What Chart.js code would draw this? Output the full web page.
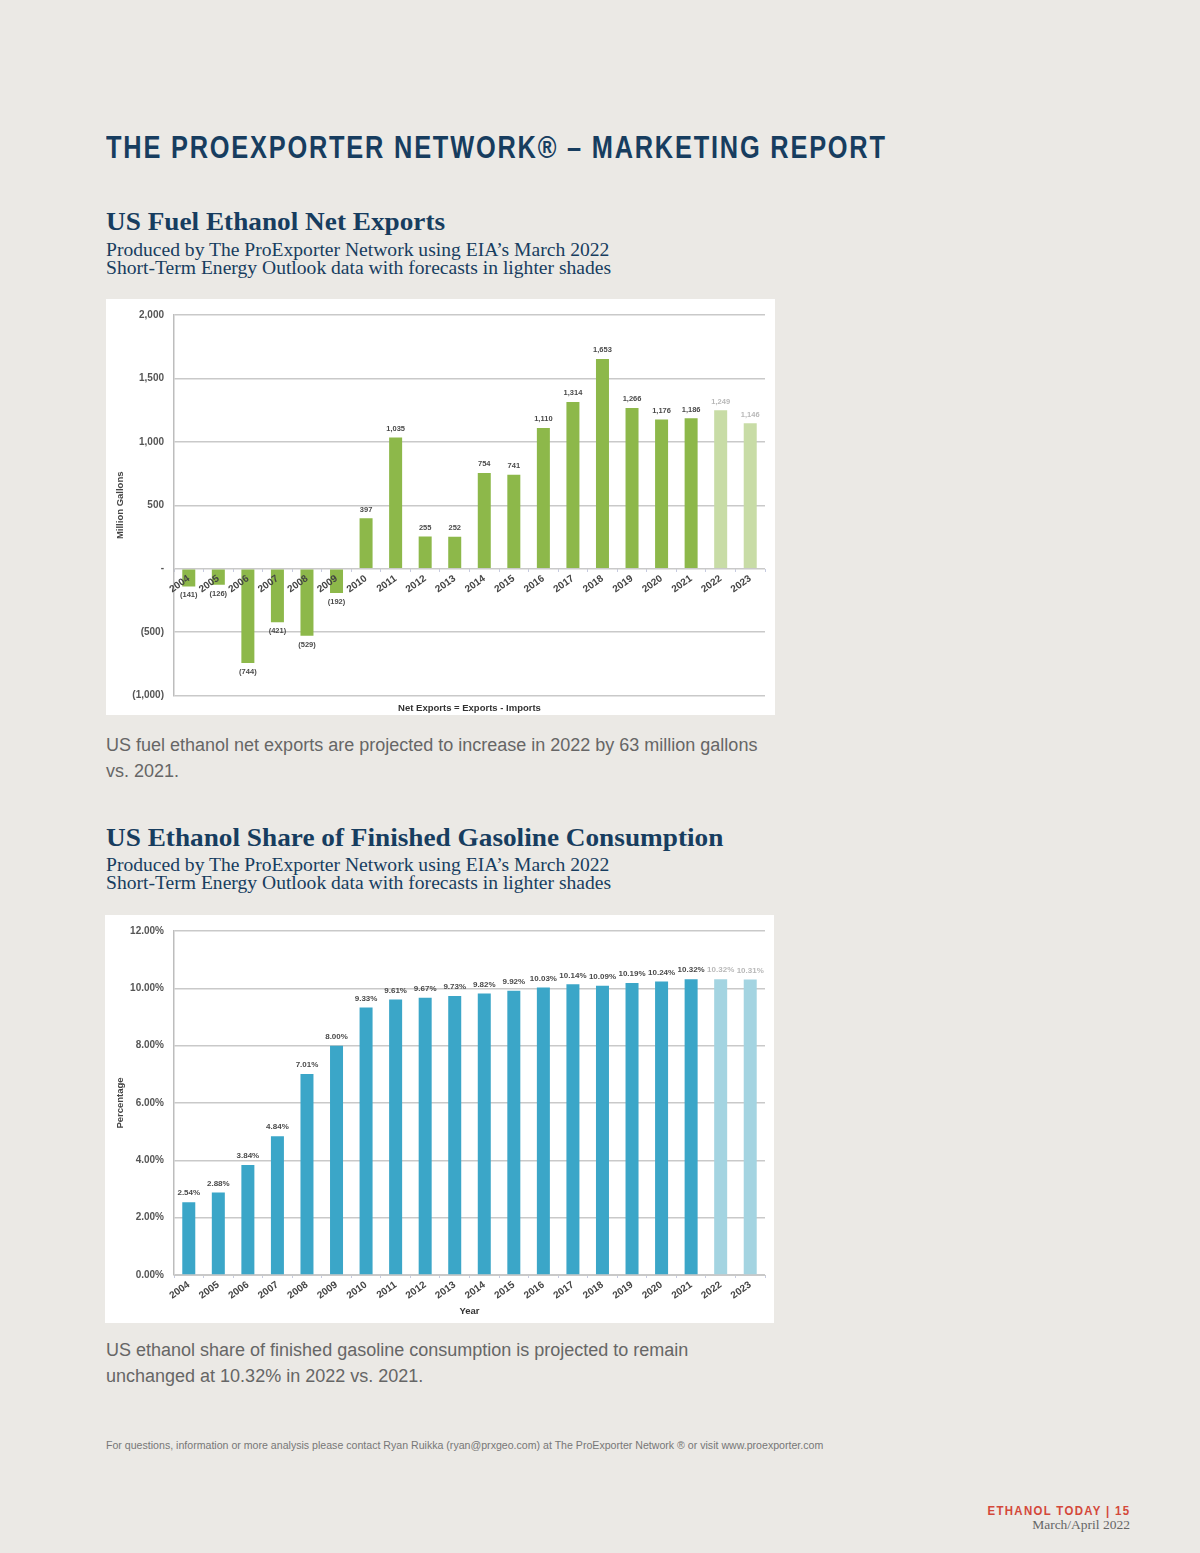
<!DOCTYPE html>
<html>
<head>
<meta charset="utf-8">
<script src="https://cdn.jsdelivr.net/npm/chart.js@4.4.0/dist/chart.umd.min.js"></script>
<style>
  body { margin: 0; background: #ebe9e5; }
  #page { position: relative; width: 1200px; height: 1553px; overflow: hidden; }
  .abs { position: absolute; white-space: nowrap; }
  .head { left: 106px; top: 130px; font-family: "Liberation Sans", sans-serif; font-weight: bold; font-size: 31px; letter-spacing: 2.2px; color: #173d5f; transform: scaleX(0.818); transform-origin: left top; }
  .h2 { left: 106px; font-family: "Liberation Serif", serif; font-weight: bold; font-size: 25px; color: #173d5f; transform: scaleX(1.09); transform-origin: left top; }
  .sub { left: 106px; font-family: "Liberation Serif", serif; font-size: 18px; line-height: 18px; color: #173d5f; transform: scaleX(1.088); transform-origin: left top; }
  .cap { left: 106px; font-family: "Liberation Sans", sans-serif; font-size: 18px; line-height: 26px; color: #666; }
  .box { position: absolute; background: #fff; }
  .foot { left: 106px; top: 1439px; font-family: "Liberation Sans", sans-serif; font-size: 10.6px; color: #777; }
  .brand { right: 70px; top: 1503px; font-family: "Liberation Sans", sans-serif; font-weight: bold; font-size: 13px; letter-spacing: 1.5px; color: #d4483a; transform: scaleX(0.88); transform-origin: right top; }
  .issue { right: 70px; top: 1517px; font-family: "Liberation Serif", serif; font-size: 13.5px; color: #666; }
</style>
</head>
<body>
<div id="page">
  <div class="abs head">THE PROEXPORTER NETWORK® – MARKETING REPORT</div>

  <div class="abs h2" style="top:208px;">US Fuel Ethanol Net Exports</div>
  <div class="abs sub" style="top:241px;">Produced by The ProExporter Network using EIA’s March 2022<br>Short-Term Energy Outlook data with forecasts in lighter shades</div>
  <div class="box" style="left:106px; top:299px; width:669px; height:416px;">
    <canvas id="exportsChart" width="669" height="416"></canvas>
  </div>
  <div class="abs cap" style="top:732px;">US fuel ethanol net exports are projected to increase in 2022 by 63 million gallons<br>vs. 2021.</div>

  <div class="abs h2" style="top:824px;">US Ethanol Share of Finished Gasoline Consumption</div>
  <div class="abs sub" style="top:856px;">Produced by The ProExporter Network using EIA’s March 2022<br>Short-Term Energy Outlook data with forecasts in lighter shades</div>
  <div class="box" style="left:105px; top:915px; width:669px; height:408px;">
    <canvas id="shareChart" width="669" height="408"></canvas>
  </div>
  <div class="abs cap" style="top:1337px;">US ethanol share of finished gasoline consumption is projected to remain<br>unchanged at 10.32% in 2022 vs. 2021.</div>

  <div class="abs foot">For questions, information or more analysis please contact Ryan Ruikka (ryan@prxgeo.com) at The ProExporter Network ® or visit www.proexporter.com</div>
  <div class="abs brand">ETHANOL TODAY | 15</div>
  <div class="abs issue">March/April 2022</div>
</div>

<script>
const years = ['2004','2005','2006','2007','2008','2009','2010','2011','2012','2013',
               '2014','2015','2016','2017','2018','2019','2020','2021','2022','2023'];
const forecastYears = ['2022','2023'];

// million gallons, exports - imports
const netExports = [-141, -126, -744, -421, -529, -192, 397, 1035, 255, 252,
                    754, 741, 1110, 1314, 1653, 1266, 1176, 1186, 1249, 1146];

// ethanol share of finished gasoline, percent
const ethanolShare = [2.54, 2.88, 3.84, 4.84, 7.01, 8.00, 9.33, 9.61, 9.67, 9.73,
                      9.82, 9.92, 10.03, 10.14, 10.09, 10.19, 10.24, 10.32, 10.32, 10.31];

const exportTicks = [-1000, -500, 0, 500, 1000, 1500, 2000];
const shareTicks = [0, 2, 4, 6, 8, 10, 12];

const tickFont = { family: 'Liberation Sans', size: 10, weight: 'bold' };
const axisTitleFont = { family: 'Liberation Sans', size: 9.5, weight: 'bold' };
const gridGrey = '#c9c9c9';

function fmtGallons(v) {
    if (v === 0) return '-';
    const s = Math.abs(v).toLocaleString('en-US');
    return v < 0 ? '(' + s + ')' : s;
}
function fmtPct(v) {
    return v.toFixed(2) + '%';
}

function colorsFor(dark, light) {
    return years.map(y => forecastYears.includes(y) ? light : dark);
}

// draws the value above (or below, for negatives) every bar
function valueLabels(format, size) {
    return {
        id: 'valueLabels',
        afterDatasetsDraw(chart) {
            const ctx = chart.ctx;
            const meta = chart.getDatasetMeta(0);
            const data = chart.data.datasets[0].data;
            ctx.save();
            ctx.font = 'bold ' + size + 'px "Liberation Sans"';
            ctx.textAlign = 'center';
            meta.data.forEach((bar, i) => {
                const v = data[i];
                ctx.fillStyle = forecastYears.includes(chart.data.labels[i]) ? '#b8b8b8' : '#4a4a4a';
                if (v >= 0) {
                    ctx.textBaseline = 'bottom';
                    ctx.fillText(format(v), bar.x, bar.y - 5);
                } else {
                    ctx.textBaseline = 'top';
                    ctx.fillText(format(v), bar.x, bar.y + 5);
                }
            });
            ctx.restore();
        }
    };
}

const ctx1 = document.getElementById('exportsChart').getContext('2d');
new Chart(ctx1, {
    type: 'bar',
    data: {
        labels: years,
        datasets: [{
            data: netExports,
            backgroundColor: colorsFor('#8db84a', '#c8dca6'),
            categoryPercentage: 1,
            barPercentage: 0.44
        }]
    },
    options: {
        responsive: false,
        animation: false,
        layout: { padding: { top: 12, right: 10, left: 0, bottom: 0 } },
        plugins: {
            legend: { display: false },
            tooltip: { enabled: false },
            title: {
                display: true,
                text: 'Net Exports = Exports - Imports',
                position: 'bottom',
                fullSize: false,
                color: '#333',
                font: axisTitleFont,
                padding: { top: 7, bottom: 1 }
            }
        },
        scales: {
            x: {
                position: { y: 0 },
                grid: { display: true, drawOnChartArea: false, drawTicks: true, tickLength: 3, color: '#c7cbe0' },
                border: { display: false },
                // labels sit on top of the negative bars, as in the original
                ticks: { z: 1, color: '#444', font: tickFont, minRotation: 35, maxRotation: 35, padding: 1, autoSkip: false },
                afterFit(scale) { scale.height = 0; }
            },
            y: {
                min: -1000,
                max: 2000,
                afterBuildTicks(scale) { scale.ticks = exportTicks.map(v => ({ value: v })); },
                grid: { color: gridGrey, lineWidth: 1.5, drawTicks: false },
                border: { display: true, color: '#bdbdbd', width: 1.5 },
                ticks: { color: '#555', font: tickFont, padding: 10, callback: v => fmtGallons(v) },
                title: {
                    display: true,
                    text: 'Million Gallons',
                    color: '#444',
                    font: axisTitleFont,
                    padding: { top: 9, bottom: 0 }
                },
                afterFit(scale) { scale.width = 68; }
            }
        }
    },
    plugins: [valueLabels(fmtGallons, 7.5)]
});

const ctx2 = document.getElementById('shareChart').getContext('2d');
new Chart(ctx2, {
    type: 'bar',
    data: {
        labels: years,
        datasets: [{
            data: ethanolShare,
            backgroundColor: colorsFor('#3ba6c8', '#a4d4e1'),
            categoryPercentage: 1,
            barPercentage: 0.44
        }]
    },
    options: {
        responsive: false,
        animation: false,
        layout: { padding: { top: 12, right: 9, left: 0, bottom: 4 } },
        plugins: {
            legend: { display: false },
            tooltip: { enabled: false }
        },
        scales: {
            x: {
                grid: { display: true, drawOnChartArea: false, drawTicks: true, tickLength: 3, color: '#c7cbe0' },
                border: { display: true, color: '#c9c9c9' },
                ticks: { color: '#444', font: tickFont, minRotation: 35, maxRotation: 35, padding: 1, autoSkip: false },
                title: {
                    display: true,
                    text: 'Year',
                    color: '#333',
                    font: axisTitleFont,
                    padding: { top: 0, bottom: 2 }
                },
                afterFit(scale) { scale.height = 44; }
            },
            y: {
                min: 0,
                max: 12,
                afterBuildTicks(scale) { scale.ticks = shareTicks.map(v => ({ value: v })); },
                grid: { color: gridGrey, lineWidth: 1.5, drawTicks: false },
                border: { display: true, color: '#bdbdbd', width: 1.5 },
                ticks: { color: '#555', font: tickFont, padding: 10, callback: v => fmtPct(v) },
                title: {
                    display: true,
                    text: 'Percentage',
                    color: '#444',
                    font: axisTitleFont,
                    padding: { top: 10, bottom: 0 }
                },
                afterFit(scale) { scale.width = 69; }
            }
        }
    },
    plugins: [valueLabels(fmtPct, 8)]
});
</script>
</body>
</html>
